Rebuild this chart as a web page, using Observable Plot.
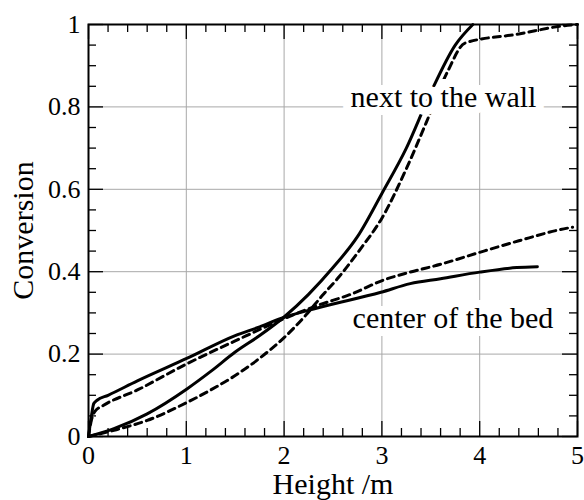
<!DOCTYPE html>
<html><head><meta charset="utf-8">
<script src="https://cdn.jsdelivr.net/npm/d3@7"></script>
<script src="https://cdn.jsdelivr.net/npm/@observablehq/plot@0.6"></script>
<style>
body{margin:0;background:#fff}
</style>
</head><body><div id="chart"></div>
<script>
// Next to the wall — solid
const wallSolidX = [0, 0.26, 0.6, 1.01, 1.25, 1.5, 1.75, 2.0, 2.25, 2.5, 2.75, 3.0, 3.25, 3.5, 3.75, 3.93];
const wallSolidY = [0, 0.019, 0.055, 0.116, 0.158, 0.205, 0.245, 0.29, 0.345, 0.41, 0.485, 0.59, 0.70, 0.835, 0.95, 1.0];
// Next to the wall — dashed
const wallDashX = [0, 0.26, 0.6, 1.01, 1.25, 1.5, 1.75, 2.0, 2.22, 2.39, 2.56, 2.78, 3.0, 3.25, 3.45, 3.67, 3.85, 4.4, 4.86, 5.0];
const wallDashY = [0, 0.015, 0.039, 0.083, 0.113, 0.148, 0.19, 0.24, 0.294, 0.342, 0.387, 0.455, 0.53, 0.65, 0.76, 0.885, 0.955, 0.977, 0.997, 1.0];
// Center of the bed — solid
const centerSolidX = [0, 0.03, 0.054, 0.088, 0.2, 0.5, 1.01, 1.5, 1.75, 1.96, 2.34, 2.99, 3.29, 3.6, 4.0, 4.38, 4.59];
const centerSolidY = [0, 0.05, 0.08, 0.088, 0.1, 0.135, 0.19, 0.245, 0.266, 0.286, 0.312, 0.35, 0.371, 0.383, 0.399, 0.41, 0.412];
// Center of the bed — dashed
const centerDashX = [0, 0.03, 0.07, 0.15, 0.5, 1.01, 1.5, 1.96, 2.34, 2.68, 3.02, 3.29, 3.6, 4.0, 4.4, 4.86, 4.95];
const centerDashY = [0, 0.04, 0.062, 0.075, 0.113, 0.177, 0.232, 0.282, 0.318, 0.345, 0.38, 0.399, 0.418, 0.447, 0.475, 0.504, 0.508];

const xMajor = [0, 1, 2, 3, 4, 5];
const yMajor = [0, 0.2, 0.4, 0.6, 0.8, 1];
const xMinor = [0.2,0.4,0.6,0.8,1.2,1.4,1.6,1.8,2.2,2.4,2.6,2.8,3.2,3.4,3.6,3.8,4.2,4.4,4.6,4.8];
const yMinor = [0.05,0.1,0.15,0.25,0.3,0.35,0.45,0.5,0.55,0.65,0.7,0.75,0.85,0.9,0.95];

const labelText = ["next to the wall", "center of the bed"];
const labelX = [2.68, 2.70];
const labelY = [0.822, 0.286];

const pts = (xs, ys) => xs.map((x, i) => ({x, y: ys[i]}));
const labels = labelText.map((t, i) => ({t, x: labelX[i], y: labelY[i]}));

const W = 584, H = 500, mL = 88, mR = 7, mT = 24, mB = 64;
const iw = W - mL - mR, ih = H - mT - mB;
const minorLen = 8, majorLen = 15;
const tickStyle = {stroke: "black", strokeWidth: 1.3};
const serif = "Liberation Serif";

const chart = Plot.plot({
  width: W, height: H,
  marginLeft: mL, marginRight: mR, marginTop: mT, marginBottom: mB,
  x: {domain: [0, 5]},
  y: {domain: [0, 1]},
  marks: [
    Plot.gridX(xMajor, {stroke: "#a8a8a8", strokeOpacity: 1, strokeWidth: 1}),
    Plot.gridY(yMajor, {stroke: "#a8a8a8", strokeOpacity: 1, strokeWidth: 1}),
    // inward ticks
    Plot.ruleX(xMinor, {...tickStyle, insetTop: ih - minorLen}),
    Plot.ruleX(xMinor, {...tickStyle, insetBottom: ih - minorLen}),
    Plot.ruleX(xMajor, {...tickStyle, insetTop: ih - majorLen}),
    Plot.ruleX(xMajor, {...tickStyle, insetBottom: ih - majorLen}),
    Plot.ruleY(yMinor, {...tickStyle, insetRight: iw - minorLen}),
    Plot.ruleY(yMinor, {...tickStyle, insetLeft: iw - minorLen}),
    Plot.ruleY(yMajor, {...tickStyle, insetRight: iw - majorLen}),
    Plot.ruleY(yMajor, {...tickStyle, insetLeft: iw - majorLen}),
    // curves
    Plot.line(pts(wallSolidX, wallSolidY), {x: "x", y: "y", stroke: "black", strokeWidth: 3, curve: "monotone-x"}),
    Plot.line(pts(wallDashX, wallDashY), {x: "x", y: "y", stroke: "black", strokeWidth: 3, strokeDasharray: "7,5", curve: "monotone-x"}),
    Plot.line(pts(centerSolidX, centerSolidY), {x: "x", y: "y", stroke: "black", strokeWidth: 3, curve: "monotone-x"}),
    Plot.line(pts(centerDashX, centerDashY), {x: "x", y: "y", stroke: "black", strokeWidth: 3, strokeDasharray: "7,5", curve: "monotone-x"}),
    // labels with white background halo
    Plot.text(labels, {x: "x", y: "y", text: "t", textAnchor: "start", lineAnchor: "middle", fontSize: 30, fontFamily: serif, fill: "black", stroke: "white", strokeWidth: 16, strokeLinejoin: "miter"}),
    Plot.frame({stroke: "black", strokeWidth: 2}),
    Plot.axisX(xMajor, {tickSize: 0, tickPadding: 9, fontSize: 26, fontFamily: serif, label: null, tickFormat: d => String(d)}),
    Plot.axisY(yMajor, {tickSize: 0, tickPadding: 8, fontSize: 26, fontFamily: serif, label: null, tickFormat: d => String(d)}),
    Plot.text(["Height /m"], {text: d => d, frameAnchor: "bottom", textAnchor: "middle", dy: 48, lineAnchor: "middle", fontSize: 30, fontFamily: serif, fill: "black"}),
    Plot.text(["Conversion"], {text: d => d, frameAnchor: "left", textAnchor: "middle", dx: -65, rotate: -90, lineAnchor: "middle", fontSize: 30, fontFamily: serif, fill: "black"})
  ]
});
chart.setAttribute("font-family", serif);
chart.style.fontFamily = serif;
chart.querySelectorAll("text").forEach(el => {
  el.setAttribute("font-family", serif);
  el.style.setProperty("font-family", serif, "important");
});
document.getElementById("chart").appendChild(chart);
</script>
</body></html>
